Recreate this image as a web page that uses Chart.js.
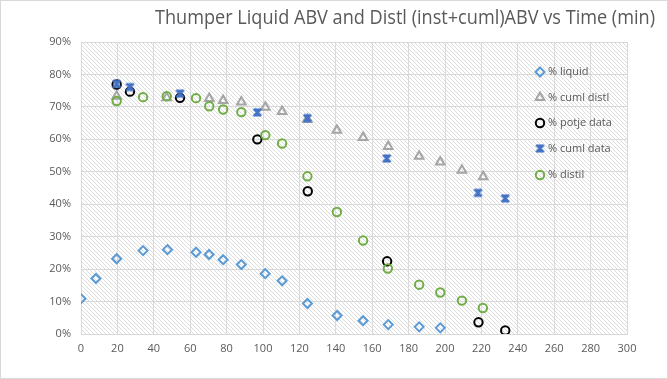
<!DOCTYPE html>
<html>
<head>
<meta charset="utf-8">
<script src="https://cdn.jsdelivr.net/npm/chart.js@4"></script>
<style>
  html, body { margin: 0; padding: 0; background: #fff; }
  #wrap { width: 668px; height: 379px; position: relative; }
</style>
</head>
<body>
<div id="wrap"><canvas id="c" width="668" height="379"></canvas></div>
<script>
// ---- data (time in min, ABV in %) ----
const titleText = 'Thumper Liquid ABV and Distl (inst+cuml)ABV vs Time (min)';
const seriesNames = ['% liquid', '% cuml distl', '% potje data', '% cuml data', '% distil'];
const xTicks = [0, 20, 40, 60, 80, 100, 120, 140, 160, 180, 200, 220, 240, 260, 280, 300];
const yTicks = [0, 10, 20, 30, 40, 50, 60, 70, 80, 90];

const liquidTime = [0, 8.2, 19.6, 34.1, 47.5, 63.2, 70.4, 78.1, 88.1, 101.2, 110.5, 124.4, 140.7, 155, 168.8, 185.8, 197.4];
const liquidABV  = [10.9, 17.1, 23.2, 25.7, 26.0, 25.2, 24.5, 22.9, 21.4, 18.6, 16.4, 9.4, 5.7, 4.1, 2.9, 2.2, 1.9];

const cumlDistlTime = [19.6, 47.1, 70.5, 78.1, 88.1, 101.3, 110.5, 124.4, 140.6, 155, 168.8, 185.8, 197.4, 209.3, 221.0];
const cumlDistlABV  = [73.3, 72.8, 72.6, 72.0, 71.5, 69.9, 68.6, 66.1, 62.8, 60.6, 57.8, 54.8, 53.0, 50.5, 48.5];

const potjeTime = [19.6, 26.9, 54.4, 96.9, 124.6, 168.2, 218.4, 233.1];
const potjeABV  = [76.9, 74.7, 72.8, 60.0, 44.0, 22.4, 3.6, 1.1];

const cumlDataTime = [19.6, 26.9, 54.4, 96.9, 124.4, 168.0, 218.1, 233.1];
const cumlDataABV  = [77.1, 76.1, 74.1, 68.3, 66.5, 54.1, 43.5, 41.8];

const distilTime = [19.6, 34.1, 47.1, 63.2, 70.5, 78.1, 88.1, 101.3, 110.5, 124.4, 140.6, 155, 168.6, 185.8, 197.4, 209.3, 220.8];
const distilABV  = [71.8, 73.0, 73.3, 72.7, 70.2, 69.2, 68.4, 61.3, 58.7, 48.6, 37.6, 28.8, 20.2, 15.2, 12.8, 10.3, 8.0];

// ---- helpers ----
function pts(xs, ys) { return xs.map((x, i) => ({ x: x, y: ys[i] })); }

// bold X marker for "% cuml data"
function makeXMarker(color) {
  const c = document.createElement('canvas');
  c.width = 11; c.height = 11;
  const g = c.getContext('2d');
  g.strokeStyle = color; g.fillStyle = color; g.lineWidth = 2.6;
  g.beginPath(); g.moveTo(1.8, 1.8); g.lineTo(9.2, 9.2); g.moveTo(9.2, 1.8); g.lineTo(1.8, 9.2); g.stroke();
  g.beginPath(); g.moveTo(3, 1.5); g.lineTo(8, 1.5); g.lineTo(5.5, 5.5); g.closePath(); g.fill();
  g.beginPath(); g.moveTo(3, 9.5); g.lineTo(8, 9.5); g.lineTo(5.5, 5.5); g.closePath(); g.fill();
  return c;
}
const xMarker = makeXMarker('#4472C4');

function makeHatch() {
  const c = document.createElement('canvas');
  c.width = 4; c.height = 4;
  const g = c.getContext('2d');
  g.fillStyle = '#ffffff'; g.fillRect(0, 0, 4, 4);
  g.fillStyle = '#dcdcdc';
  for (let i = 0; i < 4; i++) g.fillRect(i, i, 1, 1);
  return c;
}

const styles = [
  { color: '#5B9BD5', pointStyle: 'rectRot', radius: 4.5, bw: 2 },
  { color: '#A5A5A5', pointStyle: 'triangle', radius: 5, bw: 2 },
  { color: '#000000', pointStyle: 'circle', radius: 4.2, bw: 2 },
  { color: '#4472C4', pointStyle: xMarker, radius: 5.5, bw: 1 },
  { color: '#70AD47', pointStyle: 'circle', radius: 4.2, bw: 2 }
];
const seriesData = [
  pts(liquidTime, liquidABV),
  pts(cumlDistlTime, cumlDistlABV),
  pts(potjeTime, potjeABV),
  pts(cumlDataTime, cumlDataABV),
  pts(distilTime, distilABV)
];

const datasets = seriesNames.map((name, i) => ({
  label: name,
  data: seriesData[i],
  showLine: false,
  pointStyle: styles[i].pointStyle,
  pointRadius: styles[i].radius,
  pointHoverRadius: styles[i].radius,
  pointBorderWidth: styles[i].bw,
  pointBorderColor: styles[i].color,
  pointBackgroundColor: 'rgba(0,0,0,0)',
  order: 5 - i
}));

const bgPlugin = {
  id: 'bg',
  beforeDraw(chart) {
    const ctx = chart.ctx, a = chart.chartArea;
    ctx.save();
    ctx.fillStyle = '#ffffff';
    ctx.fillRect(0, 0, chart.width, chart.height);
    ctx.strokeStyle = '#d9d9d9'; ctx.lineWidth = 1;
    ctx.strokeRect(0.5, 0.5, chart.width - 1, chart.height - 1);
    ctx.fillStyle = ctx.createPattern(makeHatch(), 'repeat');
    ctx.fillRect(a.left, a.top, a.right - a.left, a.bottom - a.top);
    ctx.restore();
  },
  afterDraw(chart) {
    const ctx = chart.ctx;
    ctx.save();
    // title
    ctx.fillStyle = '#595959';
    ctx.font = '20px "Open Sans", sans-serif';
    ctx.textBaseline = 'middle';
    ctx.textAlign = 'right';
    const tw = ctx.measureText(titleText).width;
    const target = 500;
    ctx.translate(655, 18);
    ctx.scale(target / tw, 1);
    ctx.fillText(titleText, 0, 0);
    ctx.restore();
    // legend
    ctx.save();
    const lx = 540, ys = [72, 97.5, 123, 148.5, 175];
    ctx.font = '11px "Open Sans", sans-serif';
    ctx.textBaseline = 'middle';
    ctx.textAlign = 'left';
    seriesNames.forEach((name, i) => {
      const s = styles[i];
      ctx.save();
      ctx.strokeStyle = s.color; ctx.fillStyle = 'rgba(0,0,0,0)'; ctx.lineWidth = s.bw;
      Chart.helpers.drawPoint(ctx, { pointStyle: s.pointStyle, radius: s.radius, rotation: 0, borderWidth: s.bw }, lx, ys[i]);
      ctx.restore();
      ctx.fillStyle = '#595959';
      ctx.fillText(name, lx + 8, ys[i]);
    });
    ctx.restore();
  }
};

new Chart(document.getElementById('c'), {
  type: 'scatter',
  data: { datasets: datasets },
  options: {
    responsive: false,
    animation: false,
    layout: { padding: { left: 0, right: 41, top: 42, bottom: 0 } },
    plugins: { legend: { display: false }, title: { display: false }, tooltip: { enabled: false } },
    scales: {
      x: {
        type: 'linear', min: 0, max: 300,
        afterBuildTicks(s) { s.ticks = xTicks.map(v => ({ value: v })); },
        afterFit(s) { s.height = 45; },
        grid: { color: '#d9d9d9', drawTicks: false, lineWidth: 1 },
        border: { color: '#d9d9d9' },
        ticks: { color: '#595959', font: { size: 11, family: '"Open Sans", sans-serif' }, padding: 8, maxRotation: 0 }
      },
      y: {
        type: 'linear', min: 0, max: 90,
        afterBuildTicks(s) { s.ticks = yTicks.map(v => ({ value: v })); },
        afterFit(s) { s.width = 81; },
        grid: { color: '#d9d9d9', drawTicks: false, lineWidth: 1 },
        border: { color: '#d9d9d9' },
        ticks: { color: '#595959', font: { size: 11, family: '"Open Sans", sans-serif' }, padding: 10, callback: v => v + '%' }
      }
    }
  },
  plugins: [bgPlugin]
});
</script>
</body>
</html>
